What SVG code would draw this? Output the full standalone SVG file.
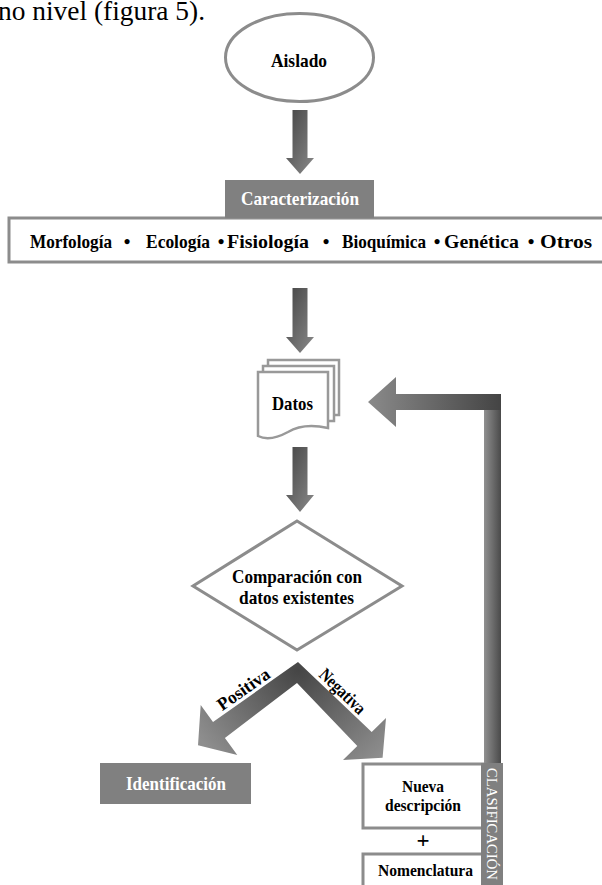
<svg xmlns="http://www.w3.org/2000/svg" width="602" height="885" viewBox="0 0 602 885">
<style>
text{font-family:"Liberation Serif","Times New Roman",serif;}
.b{font-weight:bold;fill:#000;}
.w{font-weight:bold;fill:#fff;}
.box{fill:#fff;stroke:#8c8c8c;stroke-width:3;}
.dark{fill:#808080;}
</style>
<defs>
<linearGradient id="gv" x1="0" y1="0" x2="1" y2="1">
<stop offset="0" stop-color="#444"/>
<stop offset="1" stop-color="#8a8a8a"/>
</linearGradient>
<linearGradient id="gh" x1="0" y1="0" x2="1" y2="0">
<stop offset="0" stop-color="#8a8a8a"/>
<stop offset="1" stop-color="#444"/>
</linearGradient>
<linearGradient id="gbar" x1="0" y1="0" x2="1" y2="0">
<stop offset="0" stop-color="#909090"/>
<stop offset="1" stop-color="#4a4a4a"/>
</linearGradient>
<radialGradient id="gchev" gradientUnits="userSpaceOnUse" cx="298" cy="670" r="120">
<stop offset="0" stop-color="#454545"/>
<stop offset="1" stop-color="#8e8e8e"/>
</radialGradient>
</defs>

<text x="-2" y="20" font-size="27" fill="#000" textLength="207" lengthAdjust="spacingAndGlyphs">no nivel (figura 5).</text>

<g id="aislado">
<ellipse cx="299.5" cy="57.5" rx="74" ry="44" fill="#fff" stroke="#8c8c8c" stroke-width="3"/>
<text class="b" x="271" y="67" font-size="19" textLength="56" lengthAdjust="spacingAndGlyphs">Aislado</text>
</g>

<g id="caracterizacion">
<rect class="box" x="9" y="218" width="600" height="44"/>
<rect class="dark" x="225" y="180" width="149" height="38"/>
<text class="w" x="241" y="205" font-size="19" textLength="118" lengthAdjust="spacingAndGlyphs">Caracterización</text>
<text x="30" y="248" class="b" font-size="19" textLength="82" lengthAdjust="spacingAndGlyphs">Morfología</text>
<text x="127" y="248" class="b" font-size="19" text-anchor="middle">•</text>
<text x="146" y="248" class="b" font-size="19" textLength="64" lengthAdjust="spacingAndGlyphs">Ecología</text>
<text x="221" y="248" class="b" font-size="19" text-anchor="middle">•</text>
<text x="227" y="248" class="b" font-size="19" textLength="82" lengthAdjust="spacingAndGlyphs">Fisiología</text>
<text x="326" y="248" class="b" font-size="19" text-anchor="middle">•</text>
<text x="342" y="248" class="b" font-size="19" textLength="84" lengthAdjust="spacingAndGlyphs">Bioquímica</text>
<text x="437" y="248" class="b" font-size="19" text-anchor="middle">•</text>
<text x="444" y="248" class="b" font-size="19" textLength="75" lengthAdjust="spacingAndGlyphs">Genética</text>
<text x="531" y="248" class="b" font-size="19" text-anchor="middle">•</text>
<text x="540" y="248" class="b" font-size="19" textLength="52" lengthAdjust="spacingAndGlyphs">Otros</text>
</g>

<g id="datos">
<rect x="268" y="360" width="71" height="55" fill="#fff" stroke="#999" stroke-width="2.5"/>
<rect x="263" y="366" width="71" height="55" fill="#fff" stroke="#999" stroke-width="2.5"/>
<path d="M258,372 H328 V428 C310,424 298,426 288,432 C277,438 266,440 258,436 Z" fill="#fff" stroke="#999" stroke-width="2.5"/>
<text class="b" x="272" y="410" font-size="19" textLength="41" lengthAdjust="spacingAndGlyphs">Datos</text>
</g>

<g id="comparacion">
<polygon points="297,521 402,586 297,650 193,586" fill="#fff" stroke="#8c8c8c" stroke-width="3"/>
<text class="b" x="232" y="583" font-size="19" textLength="130" lengthAdjust="spacingAndGlyphs">Comparación con</text>
<text class="b" x="239" y="604" font-size="19" textLength="115" lengthAdjust="spacingAndGlyphs">datos existentes</text>
</g>

<g id="identificacion">
<rect class="dark" x="100" y="763" width="151" height="41"/>
<text class="w" x="126" y="790" font-size="19" textLength="100" lengthAdjust="spacingAndGlyphs">Identificación</text>
</g>

<g id="nueva-descripcion">
<rect class="box" x="363" y="764" width="120" height="64"/>
<text class="b" x="402" y="792" font-size="17" textLength="42" lengthAdjust="spacingAndGlyphs">Nueva</text>
<text class="b" x="385" y="811" font-size="17" textLength="76" lengthAdjust="spacingAndGlyphs">descripción</text>
<text class="b" x="423" y="848" font-size="23" text-anchor="middle">+</text>
</g>

<g id="nomenclatura">
<rect class="box" x="363" y="854" width="120" height="40"/>
<text class="b" x="378" y="876" font-size="17" textLength="95" lengthAdjust="spacingAndGlyphs">Nomenclatura</text>
</g>

<g id="clasificacion">
<rect class="dark" x="481" y="763" width="22" height="125"/>
<text transform="translate(487,768) rotate(90)" font-size="15" fill="#fff" textLength="112" lengthAdjust="spacingAndGlyphs">CLASIFICACIÓN</text>
</g>

<g id="connectors">
<polygon fill="url(#gv)" points="292.5,110 307.5,110 307.5,158 314,158 300,174 286,158 292.5,158"/>
<polygon fill="url(#gv)" points="292.5,288 307.5,288 307.5,337 314,337 300,353 286,337 292.5,337"/>
<polygon fill="url(#gv)" points="292.5,447 307.5,447 307.5,495 314,495 300,512 286,495 292.5,495"/>
<rect x="484" y="394" width="17" height="369" fill="url(#gbar)"/>
<polygon fill="url(#gh)" points="368,402 396,377 396,394 501,394 501,410 396,410 396,427"/>
<polygon fill="url(#gchev)" points="298,662 371.7,732 386,718 382.6,757.7 343,760 357.3,746 297,683 224.9,738 237.3,755 198,745.3 200.7,705 213,722"/>
<text class="b" transform="translate(244,690) rotate(-35)" x="0" y="5" font-size="18" text-anchor="middle" textLength="60" lengthAdjust="spacingAndGlyphs">Positiva</text>
<text class="b" transform="translate(342,692) rotate(44)" x="0" y="5" font-size="18" text-anchor="middle" textLength="57" lengthAdjust="spacingAndGlyphs">Negativa</text>
</g>
</svg>
